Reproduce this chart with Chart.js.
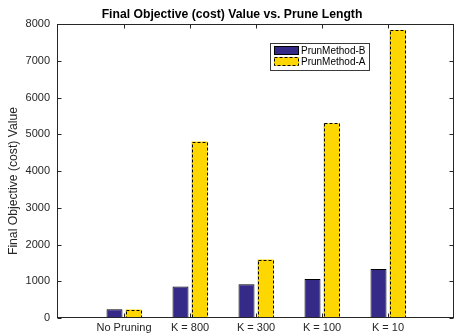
<!DOCTYPE html>
<html>
<head>
<meta charset="utf-8">
<script src="https://cdn.jsdelivr.net/npm/chart.js@4.4.1/dist/chart.umd.min.js"></script>
<style>
  html, body { margin: 0; padding: 0; background: #ffffff; }
  #wrap { width: 455px; height: 336px; position: relative; }
</style>
</head>
<body>
<div id="wrap"><canvas id="chart" width="455" height="336"></canvas></div>
<script>
// Prune settings along the x axis
const categories = ['No Pruning', 'K = 800', 'K = 300', 'K = 100', 'K = 10'];
// Final objective (cost) value for each method
const methodB = [240, 860, 920, 1060, 1330];
const methodA = [230, 4800, 1590, 5300, 7840];
// Value axis ticks
const yTicks = [0, 1000, 2000, 3000, 4000, 5000, 6000, 7000, 8000];

const seriesNames = ['PrunMethod-B', 'PrunMethod-A'];
const FONT = '"Liberation Sans", Arial, Helvetica, sans-serif';
const AXIS_COLOR = '#262626';
const BLUE = '#352a87';
const GOLD = '#ffd700';

const toPoints = vals => vals.map((v, i) => ({ x: i + 1, y: v }));

// Boxed axes with inward ticks, dashed outlines for the gold bars, and an in-plot legend
const decorations = {
  id: 'decorations',
  afterDatasetsDraw(chart) {
    const ctx = chart.ctx;
    const area = chart.chartArea;
    const xs = chart.scales.x, ys = chart.scales.y;

    // dashed outline around method A bars
    const metaA = chart.getDatasetMeta(1);
    ctx.save();
    ctx.strokeStyle = '#000000';
    ctx.lineWidth = 1;
    ctx.setLineDash([3, 2]);
    metaA.data.forEach(bar => {
      const p = bar.getProps(['x', 'y', 'base', 'width'], true);
      const l = Math.round(p.x - p.width / 2) + 0.5;
      const r = Math.round(p.x + p.width / 2) - 0.5;
      const t = Math.round(p.y) + 0.5;
      const b = Math.round(p.base) - 0.5;
      ctx.strokeRect(l, t, r - l, b - t);
    });
    ctx.restore();

    // axes box
    const L = Math.round(area.left) - 0.5, R = Math.round(area.right) - 0.5;
    const T = Math.round(area.top) + 0.5, B = Math.round(area.bottom) - 0.5;
    ctx.save();
    ctx.strokeStyle = AXIS_COLOR;
    ctx.lineWidth = 1;
    ctx.setLineDash([]);
    ctx.strokeRect(L, T, R - L, B - T);
    const tl = 4;
    ctx.beginPath();
    yTicks.forEach(v => {
      const y = Math.round(ys.getPixelForValue(v)) + 0.5;
      ctx.moveTo(L, y); ctx.lineTo(L + tl, y);
      ctx.moveTo(R, y); ctx.lineTo(R - tl, y);
    });
    categories.forEach((c, i) => {
      const x = Math.round(xs.getPixelForValue(i + 1)) + 0.5;
      ctx.moveTo(x, T); ctx.lineTo(x, T + tl);
      ctx.moveTo(x, B); ctx.lineTo(x, B - tl);
    });
    ctx.stroke();
    ctx.restore();

    // legend
    ctx.save();
    const lx = 270.5, ly = 43.5, lw = 99, lh = 27;
    ctx.fillStyle = '#ffffff';
    ctx.fillRect(lx, ly, lw, lh);
    ctx.strokeStyle = '#3a3a3a';
    ctx.lineWidth = 1;
    ctx.strokeRect(lx, ly, lw, lh);
    // swatch B
    ctx.fillStyle = BLUE;
    ctx.fillRect(274, 46, 25, 9);
    ctx.strokeStyle = '#000000';
    ctx.strokeRect(274.5, 46.5, 24, 8);
    // swatch A
    ctx.fillStyle = GOLD;
    ctx.fillRect(274, 57, 25, 9);
    ctx.setLineDash([3, 2]);
    ctx.strokeRect(274.5, 57.5, 24, 8);
    ctx.setLineDash([]);
    ctx.fillStyle = '#000000';
    ctx.font = '10px ' + FONT;
    ctx.textAlign = 'left';
    ctx.textBaseline = 'middle';
    ctx.fillText(seriesNames[0], 301, 51);
    ctx.fillText(seriesNames[1], 301, 62);
    ctx.restore();
  },
  afterDraw(chart) {
    const ctx = chart.ctx;
    ctx.save();
    // chart title
    ctx.fillStyle = '#000000';
    ctx.font = 'bold 12.2px ' + FONT;
    ctx.textAlign = 'center';
    ctx.textBaseline = 'middle';
    ctx.fillText('Final Objective (cost) Value vs. Prune Length', 232, 15);
    // y axis title
    ctx.fillStyle = AXIS_COLOR;
    ctx.font = '12.2px ' + FONT;
    ctx.translate(14, 181);
    ctx.rotate(-Math.PI / 2);
    ctx.fillText('Final Objective (cost) Value', 0, 0);
    ctx.restore();
  }
};

new Chart(document.getElementById('chart'), {
  type: 'bar',
  data: {
    datasets: [
      {
        label: seriesNames[0],
        data: toPoints(methodB),
        backgroundColor: BLUE,
        borderColor: '#000000',
        borderWidth: 1,
        borderSkipped: false
      },
      {
        label: seriesNames[1],
        data: toPoints(methodA),
        backgroundColor: GOLD,
        borderWidth: 0
      }
    ]
  },
  options: {
    responsive: false,
    animation: false,
    devicePixelRatio: 1,
    layout: { padding: { top: 24, right: 1, left: 0, bottom: 0 } },
    categoryPercentage: 38 / 66,
    barPercentage: 16 / 19,
    plugins: {
      legend: { display: false },
      title: { display: false },
      tooltip: { enabled: false }
    },
    scales: {
      x: {
        type: 'linear',
        offset: false,
        min: 0,
        max: 6,
        grid: { display: false, drawTicks: false, offset: false },
        border: { display: false },
        afterBuildTicks(scale) {
          scale.ticks = categories.map((c, i) => ({ value: i + 1 }));
        },
        afterFit(scale) { scale.height = 18; },
        ticks: {
          autoSkip: false,
          maxRotation: 0,
          padding: 3,
          color: AXIS_COLOR,
          font: { family: FONT, size: 11 },
          callback: v => categories[v - 1]
        }
      },
      y: {
        min: 0,
        max: 8000,
        grid: { display: false, drawTicks: false },
        border: { display: false },
        afterBuildTicks(scale) {
          scale.ticks = yTicks.map(v => ({ value: v }));
        },
        afterFit(scale) { scale.width = 58; },
        ticks: {
          padding: 8,
          color: AXIS_COLOR,
          font: { family: FONT, size: 11 },
          callback: v => String(v)
        }
      }
    }
  },
  plugins: [decorations]
});
</script>
</body>
</html>
